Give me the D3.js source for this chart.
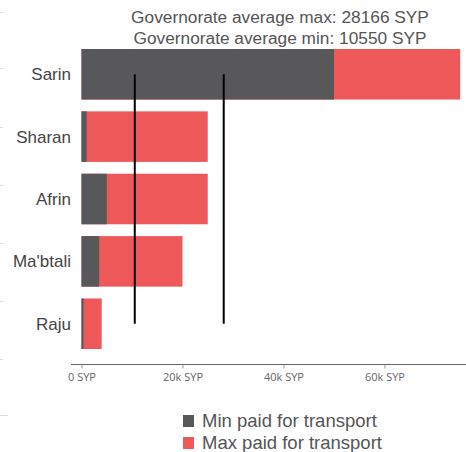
<!DOCTYPE html>
<html>
<head>
<meta charset="utf-8">
<script src="https://cdn.jsdelivr.net/npm/d3@7"></script>
<style>
  body { margin: 0; background: #fff; }
  svg { display: block; font-family: "Liberation Sans", Arial, sans-serif; }
</style>
</head>
<body>
<svg id="chart" width="466" height="452"></svg>
<script>
  // dados
  var districts = ["Sarin", "Sharan", "Afrin", "Ma'btali", "Raju"];
  var minPaid = [50000, 1000, 5000, 3500, 400];
  var maxPaid = [75000, 25000, 25000, 20000, 4000];
  var avgMax = 28166;
  var avgMin = 10550;
  var xTicks = [0, 20000, 40000, 60000];
  var legendLabels = ["Min paid for transport", "Max paid for transport"];

  var colorMin = "#58585a";
  var colorMax = "#ee5859";

  var svg = d3.select("#chart");

  // escala x em SYP
  var x = d3.scaleLinear()
    .domain([0, 76150])
    .range([81.5, 466]);

  // escala y por distrito
  var y = d3.scaleBand()
    .domain(districts)
    .range([49, 349])
    .paddingInner(0.19)
    .paddingOuter(0);

  // marcas cinzas na borda esquerda
  var edgeMarks = [12, 68, 127, 185, 243, 301, 359];
  svg.selectAll(".edge")
    .data(edgeMarks)
    .enter().append("line")
    .attr("x1", 0).attr("x2", 3)
    .attr("y1", function (d) { return d + 0.5; })
    .attr("y2", function (d) { return d + 0.5; })
    .attr("stroke", "#ddd");
  svg.append("line")
    .attr("x1", 0).attr("x2", 8)
    .attr("y1", 415.5).attr("y2", 415.5)
    .attr("stroke", "#ddd");

  // titulo
  svg.append("text")
    .attr("x", 280).attr("y", 23)
    .attr("text-anchor", "middle")
    .attr("font-size", 17.3)
    .attr("fill", "#555")
    .text("Governorate average max: " + avgMax + " SYP");
  svg.append("text")
    .attr("x", 280).attr("y", 44)
    .attr("text-anchor", "middle")
    .attr("font-size", 17.3)
    .attr("fill", "#555")
    .text("Governorate average min: " + avgMin + " SYP");

  // barras de maximo (por baixo) e minimo (por cima)
  svg.selectAll(".bar-max")
    .data(districts)
    .enter().append("rect")
    .attr("x", x(0))
    .attr("y", function (d) { return y(d); })
    .attr("width", function (d, i) { return x(maxPaid[i]) - x(0); })
    .attr("height", y.bandwidth())
    .attr("fill", colorMax);

  svg.selectAll(".bar-min")
    .data(districts)
    .enter().append("rect")
    .attr("x", x(0))
    .attr("y", function (d) { return y(d); })
    .attr("width", function (d, i) { return x(minPaid[i]) - x(0); })
    .attr("height", y.bandwidth())
    .attr("fill", colorMin);

  // rotulos dos distritos
  svg.selectAll(".label")
    .data(districts)
    .enter().append("text")
    .attr("x", 71)
    .attr("y", function (d) { return y(d) + y.bandwidth() / 2 + 6; })
    .attr("text-anchor", "end")
    .attr("font-size", 17)
    .attr("fill", "#444")
    .text(function (d) { return d; });

  // linhas das medias
  var yTop = y(districts[0]) + y.bandwidth() / 2;
  var yBottom = y(districts[districts.length - 1]) + y.bandwidth() / 2;
  [avgMin, avgMax].forEach(function (v) {
    svg.append("line")
      .attr("x1", x(v)).attr("x2", x(v))
      .attr("y1", yTop).attr("y2", yBottom)
      .attr("stroke", "#000")
      .attr("stroke-width", 2);
  });

  // eixo x
  var axis = d3.axisBottom(x)
    .tickValues(xTicks)
    .tickSize(4)
    .tickSizeOuter(0)
    .tickFormat(function (d) { return d === 0 ? "0 SYP" : (d / 1000) + "k SYP"; });

  var gx = svg.append("g")
    .attr("transform", "translate(0,364.5)")
    .call(axis);
  gx.select(".domain")
    .attr("d", "M71,0H466")
    .attr("stroke", "#666");
  gx.selectAll(".tick line").attr("stroke", "#999");
  gx.selectAll(".tick text")
    .attr("font-family", "'Open Sans', sans-serif")
    .attr("font-size", 11)
    .attr("fill", "#666")
    .attr("dy", "0.9em");

  // legenda
  var legend = svg.selectAll(".legend")
    .data(legendLabels)
    .enter().append("g")
    .attr("transform", function (d, i) { return "translate(183," + (415 + i * 22) + ")"; });
  legend.append("rect")
    .attr("width", 11).attr("height", 12)
    .attr("fill", function (d, i) { return i === 0 ? colorMin : colorMax; });
  legend.append("text")
    .attr("x", 19).attr("y", 12)
    .attr("font-size", 18.5)
    .attr("fill", "#555")
    .text(function (d) { return d; });
</script>
</body>
</html>
